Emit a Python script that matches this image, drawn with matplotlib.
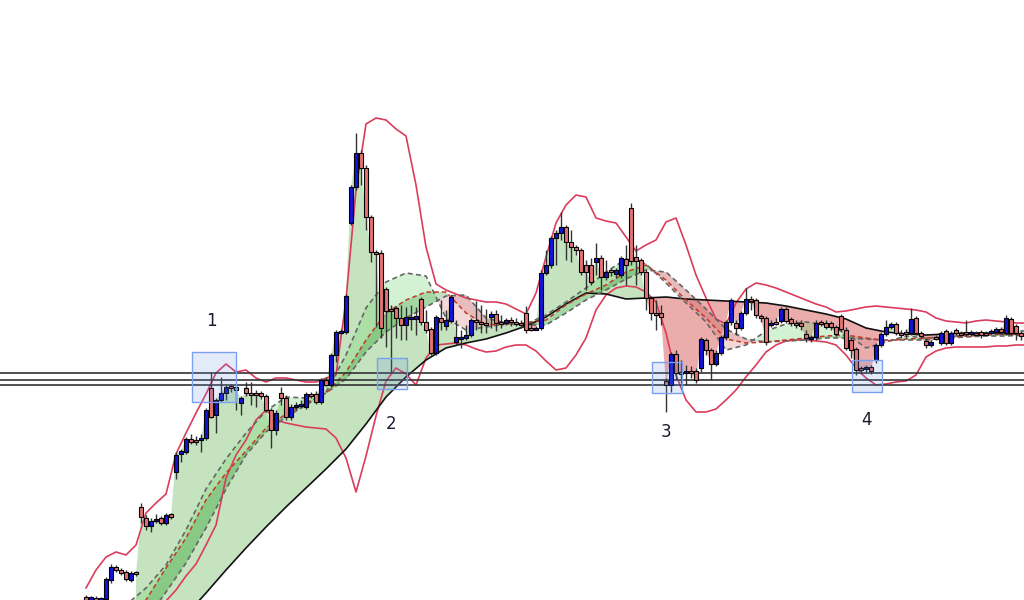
import numpy as np
import matplotlib.pyplot as plt

# K线数据 (价格单位任意)
opens = [3, 0, 2, 0, 1, 20, 33, 30, 28, 20,
         28, 93, 82, 74, 79, 82, 77, 86, 128, 146,
         148, 161, 160, 160, 162, 212, 185, 200, 207, 214,
         213, 197, 212, 207, 207, 207, 204, 190, 170, 207,
         202, 183, 193, 194, 193, 206, 206, 198, 220, 215,
         245, 268, 268, 377, 413, 447, 432, 383, 348, 347,
         311, 291, 292, 282, 275, 281, 281, 301, 278, 271,
         247, 282, 274, 279, 258, 262, 262, 265, 280, 278,
         277, 283, 286, 278, 277, 280, 278, 277, 287, 272,
         271, 272, 327, 335, 362, 367, 373, 358, 353, 350,
         335, 335, 338, 342, 323, 330, 326, 325, 341, 392,
         343, 340, 328, 302, 287, 287, 219, 215, 246, 228,
         227, 229, 229, 232, 260, 250, 236, 247, 263, 278,
         277, 272, 287, 301, 300, 284, 282, 275, 278, 279,
         291, 281, 277, 277, 266, 261, 263, 278, 277, 277,
         273, 284, 270, 260, 251, 232, 231, 233, 240, 255,
         266, 273, 276, 267, 268, 267, 282, 267, 259, 255,
         263, 257, 269, 257, 270, 267, 268, 266, 267, 268,
         267, 267, 268, 271, 267, 281, 274, 267]
highs = [5, 4, 4, 3, 23, 36, 35, 32, 30, 29,
         29, 97, 85, 82, 86, 84, 87, 87, 148, 151,
         163, 166, 164, 166, 192, 228, 202, 223, 215, 216,
         215, 204, 218, 218, 210, 209, 206, 192, 190, 213,
         205, 196, 198, 200, 208, 208, 209, 222, 223, 247,
         270, 271, 306, 415, 467, 450, 435, 385, 350, 350,
         313, 295, 294, 295, 293, 295, 293, 303, 290, 273,
         285, 300, 290, 305, 280, 270, 275, 282, 299, 295,
         291, 289, 290, 285, 282, 283, 282, 280, 294, 278,
         274, 330, 350, 364, 370, 388, 375, 370, 355, 352,
         340, 342, 357, 345, 340, 332, 332, 344, 355, 397,
         355, 342, 330, 304, 300, 295, 222, 248, 250, 240,
         235, 234, 232, 263, 262, 252, 250, 265, 280, 302,
         280, 289, 312, 304, 302, 286, 284, 280, 282, 293,
         293, 283, 280, 280, 270, 265, 280, 280, 280, 279,
         275, 286, 273, 262, 253, 234, 235, 235, 257, 268,
         280, 278, 278, 270, 271, 292, 284, 269, 262, 260,
         265, 269, 271, 269, 272, 269, 280, 270, 269, 270,
         269, 271, 273, 273, 285, 283, 276, 269]
lows = [-5, -3, -2, -1, 0, 17, 28, 25, 19, 18,
        24, 77, 70, 68, 77, 75, 75, 81, 121, 138,
        146, 156, 155, 148, 160, 182, 167, 198, 200, 208,
        190, 185, 204, 195, 193, 201, 188, 152, 165, 195,
        180, 180, 190, 192, 191, 202, 196, 196, 214, 213,
        238, 266, 266, 375, 410, 415, 370, 338, 273, 262,
        253, 228, 262, 260, 260, 270, 265, 275, 267, 245,
        245, 270, 270, 277, 255, 252, 260, 263, 270, 267,
        267, 272, 269, 272, 275, 274, 274, 272, 267, 269,
        270, 270, 325, 332, 335, 360, 340, 338, 345, 325,
        310, 315, 325, 310, 320, 324, 322, 322, 315, 335,
        315, 325, 290, 280, 270, 275, 188, 208, 220, 217,
        215, 222, 217, 228, 245, 220, 234, 245, 260, 275,
        265, 270, 285, 290, 282, 278, 255, 273, 275, 277,
        277, 274, 272, 270, 258, 258, 260, 274, 271, 270,
        264, 268, 250, 242, 225, 226, 227, 226, 237, 253,
        264, 271, 265, 262, 262, 265, 265, 262, 252, 253,
        260, 255, 255, 255, 265, 264, 264, 264, 265, 262,
        265, 266, 266, 266, 265, 265, 260, 260]
closes = [0, 3, 1, 2, 21, 33, 30, 27, 21, 27,
          26, 83, 74, 79, 81, 77, 85, 83, 145, 149,
          161, 158, 158, 162, 190, 183, 200, 207, 213, 212,
          210, 202, 207, 205, 205, 204, 190, 170, 187, 202,
          183, 193, 195, 196, 206, 204, 198, 220, 215, 245,
          268, 269, 304, 413, 447, 432, 383, 348, 347, 272,
          289, 289, 282, 275, 283, 283, 284, 278, 270, 247,
          283, 278, 280, 303, 263, 263, 265, 280, 278, 277,
          275, 286, 277, 277, 280, 278, 277, 275, 270, 271,
          272, 327, 335, 362, 367, 373, 358, 353, 350, 328,
          328, 318, 342, 323, 328, 328, 330, 342, 335, 339,
          339, 328, 302, 287, 286, 283, 215, 246, 227, 227,
          229, 228, 220, 261, 250, 236, 247, 263, 278, 300,
          272, 287, 301, 300, 285, 282, 258, 277, 277, 291,
          279, 277, 276, 274, 262, 263, 277, 277, 273, 273,
          266, 271, 252, 250, 230, 230, 233, 229, 255, 266,
          273, 276, 267, 265, 266, 281, 267, 264, 255, 258,
          262, 267, 257, 267, 267, 266, 267, 268, 266, 265,
          266, 269, 271, 268, 282, 267, 267, 264]

# 布林带 (每2根K线一个值)
band_idx = list(range(0, 189, 2))
band_upper = [12, 30, 43, 48, 45, 55, 87, 97, 106, 146,
              167, 187, 206, 227, 236, 228, 230, 222, 218, 222,
              222, 220, 218, 218, 222, 225, 300, 410, 476, 482,
              480, 471, 464, 415, 353, 316, 310, 306, 302, 300,
              298, 298, 296, 291, 286, 307, 343, 377, 395, 405,
              403, 382, 379, 377, 363, 349, 355, 360, 378, 382,
              355, 325, 302, 281, 276, 297, 311, 317, 315, 312,
              308, 304, 300, 296, 293, 288, 289, 291, 293, 294,
              293, 292, 291, 290, 288, 282, 279, 278, 277, 279,
              280, 279, 278, 277, 277]
band_lower = [-90, -80, -70, -58, -45, -32, -20, -10, -1, 10,
              24, 36, 55, 75, 122, 145, 160, 180, 190, 180,
              177, 175, 173, 172, 171, 162, 142, 108, 144, 184,
              219, 232, 226, 215, 242, 255, 256, 257, 255, 251,
              248, 249, 253, 255, 255, 249, 239, 230, 232, 245,
              262, 290, 305, 312, 314, 313, 308, 298, 267, 225,
              200, 188, 188, 191, 200, 210, 223, 235, 248, 255,
              259, 260, 260, 259, 258, 255, 245, 232, 222, 215,
              216, 218, 219, 225, 243, 249, 252, 253, 253, 253,
              253, 254, 254, 255, 255]

# 均线 (每4根K线一个值)
ma_idx = list(range(0, 189, 4))
ma_slow = [-126, -104, -82, -60, -37, -15, 7, 30, 52, 73,
           93, 112, 131, 151, 176, 203, 223, 240, 252, 257,
           261, 267, 274, 283, 296, 307, 306, 301, 302, 303,
           301, 300, 299, 298, 297, 294, 290, 286, 281, 272,
           268, 266, 265, 266, 267, 267, 266, 266]
ma_fast = [-40, -25, -5, 12, 35, 70, 111, 141, 167, 189,
           203, 202, 208, 245, 292, 318, 327, 324, 282, 270,
           273, 276, 276, 285, 298, 312, 328, 341, 336, 317,
           297, 278, 250, 255, 269, 276, 278, 275, 267, 252,
           258, 264, 262, 263, 265, 266, 269, 269]
ma_mid = [-60, -40, -22, 0, 32, 62, 100, 127, 149, 172,
          186, 197, 207, 228, 260, 287, 300, 308, 308, 287,
          275, 276, 277, 280, 295, 306, 315, 328, 335, 320,
          300, 282, 261, 257, 258, 260, 262, 264, 265, 262,
          259, 261, 262, 263, 264, 265, 266, 266]
ma_long = [-90, -68, -45, -20, 8, 37, 72, 111, 145, 168,
           183, 195, 207, 221, 248, 268, 282, 293, 304, 305,
           282, 277, 275, 275, 287, 300, 310, 321, 330, 328,
           310, 291, 271, 261, 258, 259, 260, 262, 262, 261,
           260, 260, 260, 262, 263, 264, 264, 265]

# 支撑线与信号框
levels = [227, 220.5, 215]
box_left = [21.2, 58.2, 113.2, 153.2]
box_right = [30.0, 64.2, 119.2, 159.2]
box_low = [198, 211, 207, 208]
box_high = [248, 242, 238, 240]
labels = ["1", "2", "3", "4"]
label_idx = [25, 61, 116, 156]
label_price = [279, 176, 168, 180]

fig = plt.figure(figsize=(10.24, 6), dpi=100)
ax = fig.add_axes([0, 0, 1, 1])
ax.axis("off")

x = np.arange(len(closes))
o = np.array(opens)
c = np.array(closes)

# 收盘价与慢线之间的填充
slow_c = np.interp(x, ma_idx, ma_slow)
s = x >= 10
ax.fill_between(x[s], c[s], slow_c[s], where=c[s] >= slow_c[s], interpolate=True,
                color="#8cc97f", alpha=0.5, lw=0, zorder=1)
ax.fill_between(x[s], c[s], slow_c[s], where=c[s] < slow_c[s], interpolate=True,
                color="#d85a5a", alpha=0.5, lw=0, zorder=1)

# 均线带填充
mi = np.array(ma_idx)
fa, md, lg = np.array(ma_fast), np.array(ma_mid), np.array(ma_long)
ax.fill_between(mi, fa, lg, where=fa >= lg, interpolate=True, color="#6fd66f", alpha=0.3, lw=0, zorder=1.5)
ax.fill_between(mi, fa, lg, where=fa < lg, interpolate=True, color="#d88080", alpha=0.3, lw=0, zorder=1.5)
ax.fill_between(mi, md, lg, where=md >= lg, interpolate=True, color="#3a9a3a", alpha=0.3, lw=0, zorder=1.6)
ax.fill_between(mi, md, lg, where=md < lg, interpolate=True, color="#c05050", alpha=0.2, lw=0, zorder=1.6)

# 布林带
ax.plot(band_idx, band_upper, color="#dc3c5c", lw=1.2, zorder=3)
ax.plot(band_idx, band_lower, color="#dc3c5c", lw=1.2, zorder=3)

# 均线
ax.plot(ma_idx, ma_slow, color="#111111", lw=1.2, zorder=3)
ax.plot(ma_idx, ma_fast, color="#666666", lw=1.2, ls=(0, (3, 2)), zorder=3)
ax.plot(ma_idx, ma_long, color="#666666", lw=1.2, ls=(0, (3, 2)), zorder=3)
ax.plot(ma_idx, ma_mid, color="#c0392b", lw=1.1, ls=(0, (3, 2)), zorder=3)

for lv in levels:
    ax.axhline(lv, color="#333333", lw=1.2, zorder=4)

# K线
up = c >= o
ax.vlines(x, lows, highs, color="#333333", lw=1.0, zorder=5)
small = np.abs(c - o) < 1.5
body = np.where(small, 1.5, c - o)
bottom = np.where(small, np.minimum(o, c) - 0.5, o)
ax.bar(x, body, bottom=bottom, width=0.82,
       color=np.where(up, "#1414d8", "#e57373"), edgecolor="black", lw=0.8, zorder=6)

for l, r, lo, hi in zip(box_left, box_right, box_low, box_high):
    ax.add_patch(plt.Rectangle((l, lo), r - l, hi - lo, facecolor="#6495ed", alpha=0.18,
                               edgecolor="none", zorder=7))
    ax.add_patch(plt.Rectangle((l, lo), r - l, hi - lo, fill=False,
                               edgecolor="#7aa0f0", lw=1.0, zorder=7))

for t, xi, yi in zip(labels, label_idx, label_price):
    ax.text(xi, yi, t, fontsize=12, color="#1a1a2e", ha="center", va="center", zorder=8)

ax.set_xlim(-17.2, 187.6)
ax.set_ylim(0, 600)

fig.savefig("out.png", dpi=100)
